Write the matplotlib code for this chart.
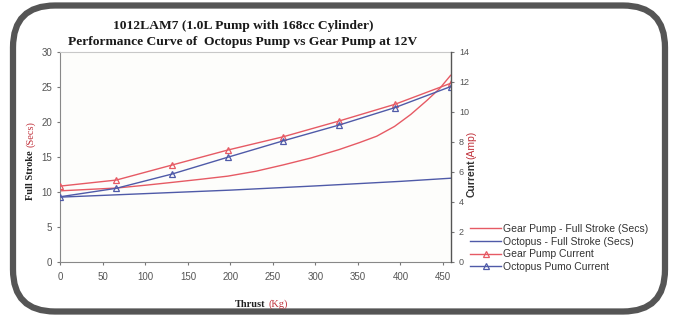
import matplotlib
matplotlib.use("Agg")
import matplotlib.pyplot as plt
from matplotlib.patches import FancyBboxPatch

# thrust points where currents were measured (Kg)
thrust = [0, 65.6, 131.1, 196.7, 262.3, 327.9, 393.4, 459]
gear_current = [5.03, 5.43, 6.43, 7.43, 8.32, 9.37, 10.48, 11.88]
octo_current = [4.32, 4.88, 5.83, 6.95, 8.05, 9.10, 10.26, 11.66]

# full stroke times (Secs)
gear_stroke_x = [0, 33, 66, 100, 131, 165, 197, 230, 262, 295, 328, 352, 372, 393, 412, 431, 446, 459]
gear_stroke = [10.1, 10.3, 10.5, 10.9, 11.3, 11.75, 12.2, 12.9, 13.8, 14.8, 16.0, 17.0, 17.9, 19.3, 21.0, 23.0, 24.7, 26.6]
octo_stroke_x = [0, 100, 200, 300, 400, 459]
octo_stroke = [9.2, 9.7, 10.2, 10.8, 11.45, 11.9]

x_ticks = [0, 50, 100, 150, 200, 250, 300, 350, 400, 450]
left_ticks = [0, 5, 10, 15, 20, 25, 30]
right_ticks = [0, 2, 4, 6, 8, 10, 12, 14]

red = '#e65a64'
blue = '#4f5aa8'
serif = 'Liberation Serif'
sans = 'Liberation Sans'

fig = plt.figure(figsize=(6.75, 3.17), dpi=100)
fig.patch.set_facecolor('white')

# rounded frame round the whole chart
frame = FancyBboxPatch((0.13, 0.055), 6.52, 3.06,
                       boxstyle='round,pad=0,rounding_size=0.42',
                       transform=fig.dpi_scale_trans, facecolor='none',
                       edgecolor='#555555', linewidth=4.5, zorder=-5)
fig.patches.append(frame)

ax = fig.add_axes([0.0896, 0.175, 0.578, 0.6625])
ax.set_facecolor('#fdfdfb')
ax2 = ax.twinx()

l1, = ax.plot(gear_stroke_x, gear_stroke, color=red, lw=1.0, label='Gear Pump - Full Stroke (Secs)')
l2, = ax.plot(octo_stroke_x, octo_stroke, color=blue, lw=1.0, label='Octopus - Full Stroke (Secs)')
l3, = ax2.plot(thrust, gear_current, color=red, lw=1.0, marker='^', ms=4.5,
               mfc='none', mec=red, mew=0.9, label='Gear Pump Current')
l4, = ax2.plot(thrust, octo_current, color=blue, lw=1.0, marker='^', ms=4.5,
               mfc='none', mec=blue, mew=0.9, label='Octopus Pumo Current')

ax.set_xlim(0, 459)
ax.set_ylim(0, 30)
ax2.set_ylim(0, 14)
ax.set_xticks(x_ticks)
ax.set_yticks(left_ticks)
ax2.set_yticks(right_ticks)

for a in (ax, ax2):
    a.tick_params(direction='out', length=2.5, width=0.8, colors='#777777',
                  labelsize=7, labelcolor='#555555')
    for lab in a.get_xticklabels() + a.get_yticklabels():
        lab.set_family(sans)
ax2.tick_params(labelsize=6.5)
ax.tick_params(axis='x', pad=5)

ax.spines['top'].set_color('#c8c8c8')
ax.spines['left'].set_color('#888888')
ax.spines['bottom'].set_color('#888888')
ax.spines['right'].set_visible(False)
ax2.spines['top'].set_visible(False)
ax2.spines['left'].set_visible(False)
ax2.spines['bottom'].set_visible(False)
ax2.spines['right'].set_color('#555555')
ax2.spines['right'].set_linewidth(1.0)

fig.text(0.36, 0.918, '1012LAM7 (1.0L Pump with 168cc Cylinder)', ha='center', va='center',
         family=serif, weight='bold', fontsize=9.7, color='#1a1a1a')
fig.text(0.36, 0.866, 'Performance Curve of  Octopus Pump vs Gear Pump at 12V', ha='center', va='center',
         family=serif, weight='bold', fontsize=9.7, color='#1a1a1a')

# y label left, black part then red part above it
t1 = fig.text(0.045, 0.37, 'Full Stroke', rotation=90, ha='center', va='bottom',
              family=serif, weight='bold', fontsize=7.5, color='#222222')
ax.annotate('(Secs)', xy=(0.5, 1), xycoords=t1, xytext=(0, 2), textcoords='offset points',
            rotation=90, ha='center', va='bottom', family=serif, fontsize=7.5, color='#c0303a',
            annotation_clip=False)

# y label right
t2 = fig.text(0.698, 0.38, 'Current', rotation=90, ha='center', va='bottom',
              family=sans, weight='bold', fontsize=7.5, color='#333333')
ax.annotate('(Amp)', xy=(0.5, 1), xycoords=t2, rotation=90, ha='center', va='bottom',
            family=sans, fontsize=7.5, color='#c0303a', annotation_clip=False)

# x label
t3 = fig.text(0.348, 0.04, 'Thrust', ha='left', va='center',
              family=serif, weight='bold', fontsize=7.5, color='#222222')
ax.annotate('(Kg)', xy=(1, 0), xycoords=t3, xytext=(2.5, 0), textcoords='offset points',
            ha='left', va='bottom', family=serif, fontsize=7.5, color='#c0303a',
            annotation_clip=False)

leg = fig.legend(handles=[l1, l2, l3, l4], loc='upper left', bbox_to_anchor=(0.697, 0.293),
                 frameon=False, prop={'family': sans, 'size': 7.5}, handlelength=2.9,
                 handletextpad=0.25, labelspacing=0.25, borderpad=0, borderaxespad=0)
for txt in leg.get_texts():
    txt.set_color('#333333')

fig.savefig('out.png', dpi=100)
